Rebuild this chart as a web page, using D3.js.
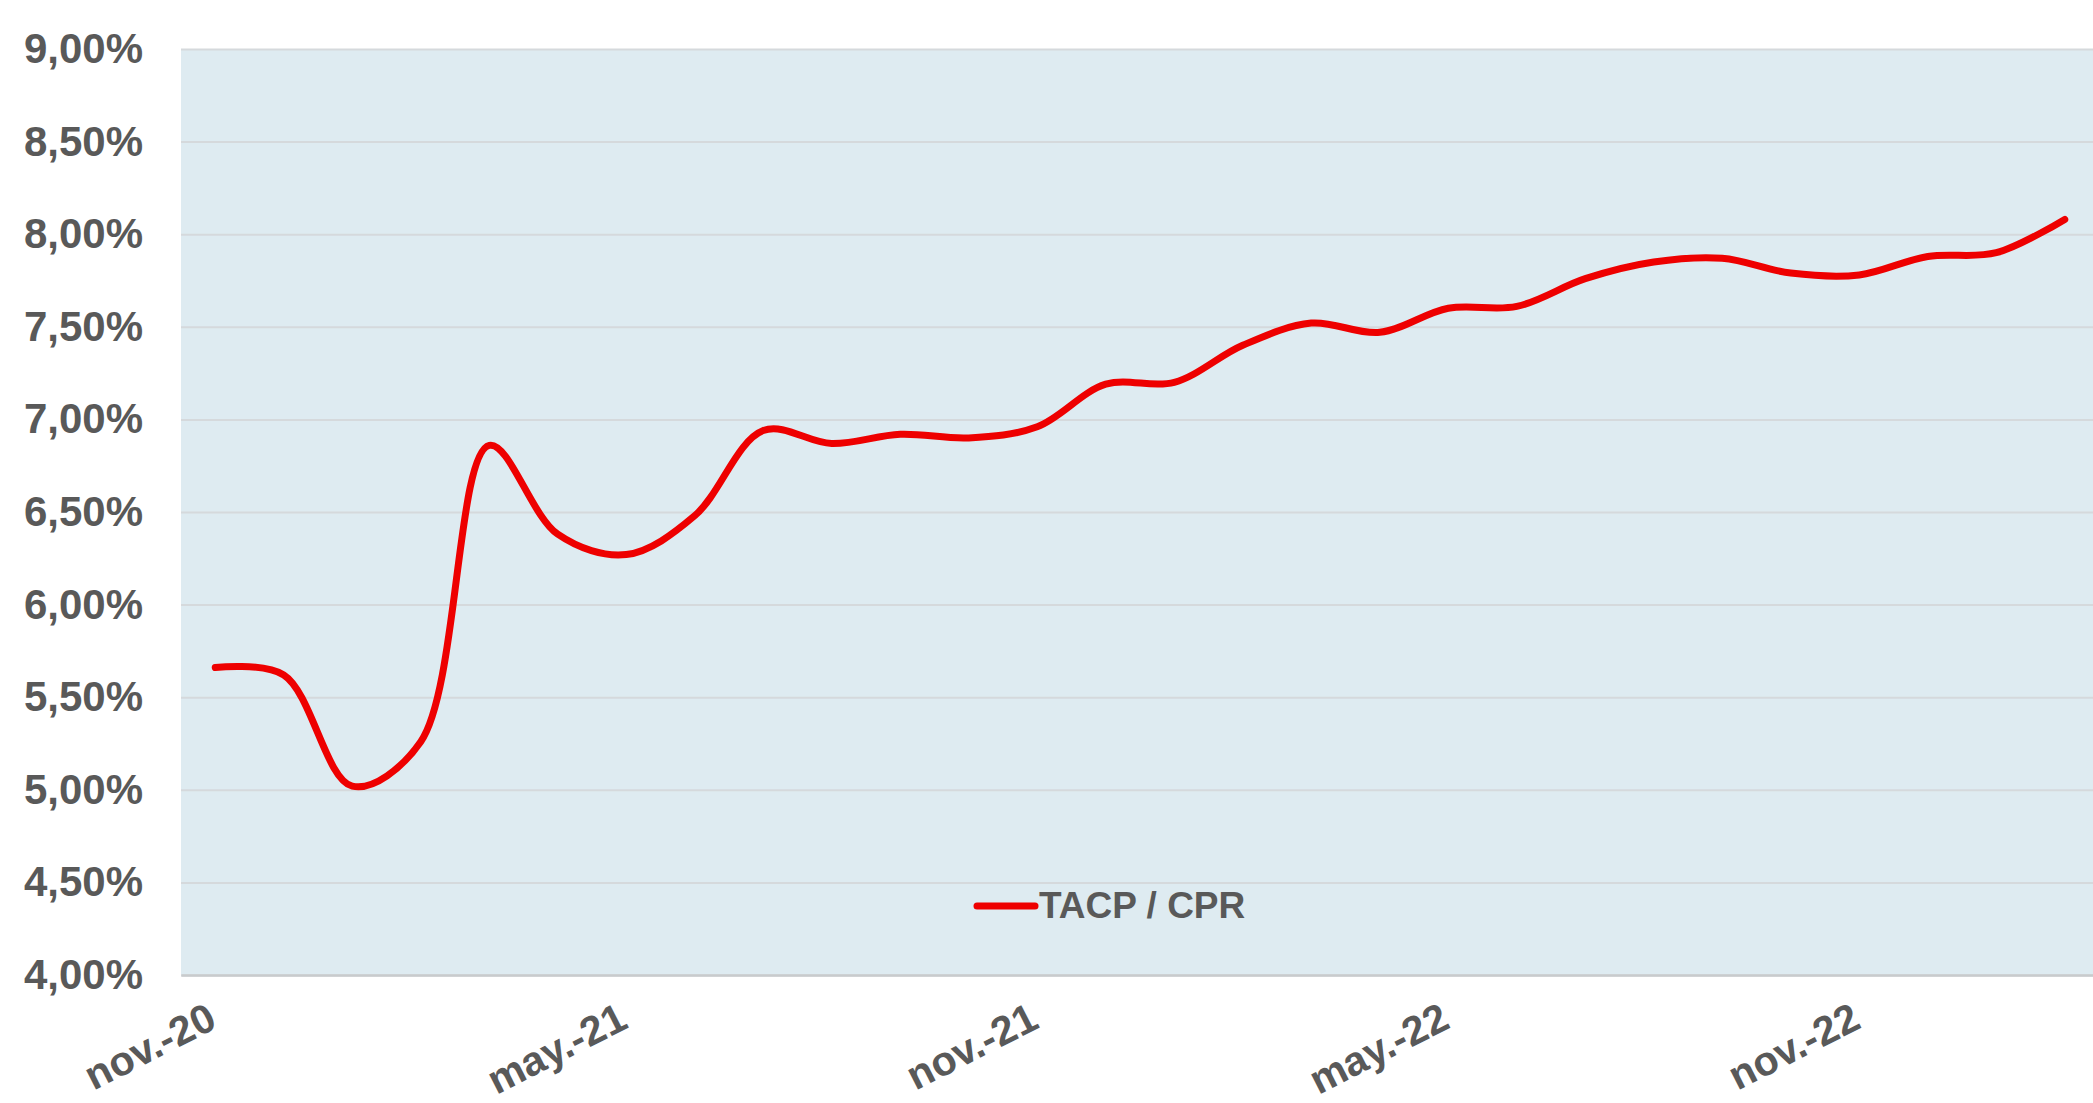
<!DOCTYPE html>
<html>
<head>
<meta charset="utf-8">
<script src="https://cdn.jsdelivr.net/npm/d3@7"></script>
<style>
body { margin: 0; background: #fff; }
text { font-family: "Liberation Sans", Arial, sans-serif; font-weight: bold; fill: #595959; }
</style>
</head>
<body>
<svg width="2093" height="1103"></svg>
<script>
var months = ["nov.-20", "dic.-20", "ene.-21", "feb.-21", "mar.-21", "abr.-21", "may.-21",
  "jun.-21", "jul.-21", "ago.-21", "sep.-21", "oct.-21", "nov.-21", "dic.-21",
  "ene.-22", "feb.-22", "mar.-22", "abr.-22", "may.-22", "jun.-22", "jul.-22",
  "ago.-22", "sep.-22", "oct.-22", "nov.-22", "dic.-22", "ene.-23", "feb.-23"];
var tacp = [5.66, 5.62, 5.02, 5.26, 6.86, 6.38, 6.27,
  6.48, 6.94, 6.87, 6.92, 6.90, 6.96, 7.19,
  7.20, 7.40, 7.52, 7.47, 7.60, 7.61, 7.76,
  7.85, 7.87, 7.79, 7.78, 7.88, 7.90, 8.08];
var xTicks = ["nov.-20", "may.-21", "nov.-21", "may.-22", "nov.-22"];
var yTicks = [4, 4.5, 5, 5.5, 6, 6.5, 7, 7.5, 8, 8.5, 9];
var seriesName = "TACP / CPR";

var svg = d3.select("svg"),
  margin = {top: 49, left: 181},
  width = 1918,
  height = 926,
  fullW = 2093 - margin.left,
  g = svg.append("g").attr("transform", "translate(" + margin.left + "," + margin.top + ")");

var x = d3.scalePoint()
  .domain(months)
  .range([0, width])
  .padding(0.5);

var y = d3.scaleLinear()
  .domain([4, 9])
  .range([height, 0]);

var es = d3.formatLocale({decimal: ",", thousands: ".", grouping: [3], currency: ["", " €"]});
var pct = es.format(".2f");

g.append("rect")
  .attr("width", fullW)
  .attr("height", height)
  .attr("fill", "#deebf1");

// gridlines
g.append("g")
  .call(d3.axisLeft(y).tickValues(yTicks).tickSize(-fullW).tickFormat(""))
  .call(function(a) {
    a.select(".domain").remove();
    a.selectAll("line").attr("stroke", "#d5d9dc").attr("stroke-width", 2);
  });

// y labels
g.append("g")
  .call(d3.axisLeft(y).tickValues(yTicks).tickSize(0).tickPadding(38)
    .tickFormat(function(d) { return pct(d) + "%"; }))
  .attr("font-size", 42)
  .call(function(a) { a.select(".domain").remove(); });

// x axis
g.append("g")
  .attr("transform", "translate(0," + height + ")")
  .call(d3.axisBottom(x).tickValues(xTicks).tickSize(0).tickSizeOuter(0))
  .attr("font-size", 41)
  .call(function(a) {
    a.select(".domain").attr("stroke", "#c8cbcd").attr("stroke-width", 2.5);
    a.selectAll("text")
      .attr("y", 0)
      .attr("dy", 0)
      .attr("text-anchor", "end")
      .attr("transform", "translate(3,52) rotate(-27)");
  });

var line = d3.line()
  .x(function(d, i) { return x(months[i]); })
  .y(function(d) { return y(d); })
  .curve(d3.curveCatmullRom.alpha(0.5));

g.append("path")
  .datum(tacp)
  .attr("fill", "none")
  .attr("stroke", "#ee0000")
  .attr("stroke-width", 7)
  .attr("stroke-linejoin", "round")
  .attr("stroke-linecap", "round")
  .attr("d", line);

// legend
var legend = svg.append("g").attr("transform", "translate(977,906)");
legend.append("line")
  .attr("x1", 0).attr("x2", 58)
  .attr("stroke", "#ee0000")
  .attr("stroke-width", 7)
  .attr("stroke-linecap", "round");
legend.append("text")
  .attr("x", 62)
  .attr("y", 12)
  .attr("font-size", 37)
  .text(seriesName);
</script>
</body>
</html>
